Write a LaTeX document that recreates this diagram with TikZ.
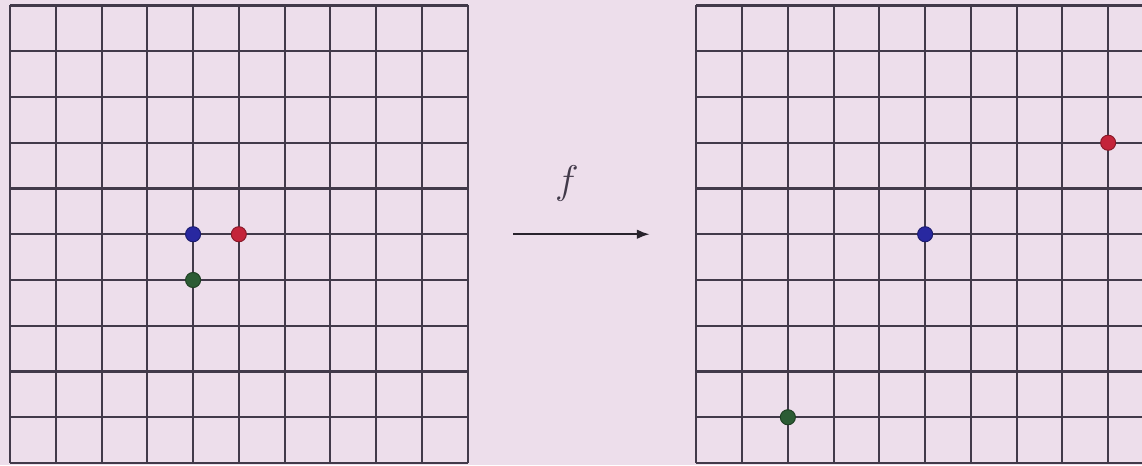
\documentclass[tikz,border=0pt]{standalone}
\usepackage{amsmath}
\usepackage{tikz}
\usetikzlibrary{arrows.meta,positioning}
\usepackage{xcolor}

\definecolor{paper}{RGB}{237,222,235}
\definecolor{gridink}{RGB}{66,58,74}
\definecolor{dotblue}{RGB}{40,40,160}
\definecolor{dotred}{RGB}{196,36,58}
\definecolor{dotgreen}{RGB}{44,92,52}

\begin{document}
\begin{tikzpicture}[
  gridline/.style={draw=gridink, line width=1.3pt},
  dot/.style={circle, inner sep=0pt, minimum size=0.33cm, line width=0.6pt},
  bluedot/.style={dot, fill=dotblue, draw=dotblue!70!black},
  reddot/.style={dot, fill=dotred, draw=dotred!70!black},
  greendot/.style={dot, fill=dotgreen, draw=dotgreen!70!black},
  maparr/.style={-{Latex[length=8pt,width=6pt]}, line width=1.2pt, draw=gridink!60!black}
]

% page and background
\fill[paper] (-0.22,-0.05) rectangle (24.74,10.12);
\useasboundingbox (-0.22,-0.05) rectangle (24.74,10.12);
\clip (-0.22,-0.05) rectangle (24.74,10.12);

% the two grids
\draw[gridline] (0,0) grid (10,10);
\draw[gridline] (15,0) grid (26,10);

% points before the map
\node[bluedot]  (pblue)  at (4,5) {};
\node[reddot]   (pred)   at (5,5) {};
\node[greendot] (pgreen) at (4,4) {};

% points after the map
\node[bluedot]  (qblue)  at (20,5) {};
\node[reddot]   (qred)   at (24,7) {};
\node[greendot] (qgreen) at (17,1) {};

% the map f
\coordinate (fstart) at (11,5);
\coordinate (fend) at (13.98,5);
\draw[maparr] (fstart) -- (fend);
\node[font=\fontsize{24}{28}\selectfont, text=gridink] (flabel) at (12.17,6.1) {$f$};

\end{tikzpicture}
\end{document}
